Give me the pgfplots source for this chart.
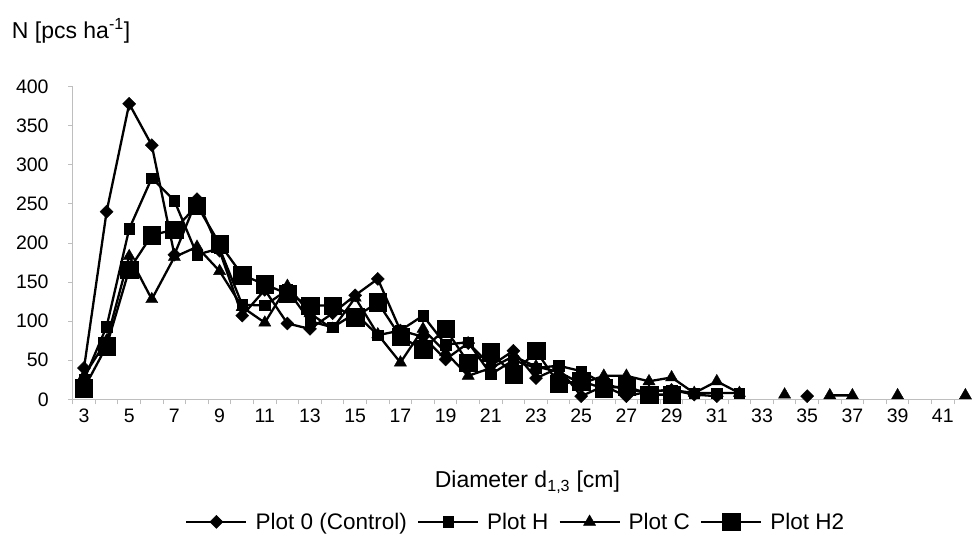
\documentclass[border=0pt]{standalone}
\usepackage{fontspec}
\setmainfont{Liberation Sans}
\usepackage{pgfplots}
\pgfplotsset{compat=1.18}
\definecolor{axgray}{RGB}{190,190,190}
\begin{document}
\begin{tikzpicture}
\path[use as bounding box] (-72.7pt,-143.7pt) rectangle (899.3pt,399.3pt);
\begin{axis}[
  scale only axis, width=904pt, height=312.7pt,
  xmin=2.5, xmax=42.5, ymin=0, ymax=400,
  clip=false,
  axis x line*=bottom, axis y line*=left,
  axis line style={axgray, line width=0.9pt},
  tick align=outside,
  xtick={3,5,...,41},
  minor xtick={2.5,3.5,...,42.5},
  major x tick style={draw=none},
  ytick={0,50,...,400},
  major tick length=4.5pt, minor tick length=5pt,
  tick style={axgray, line width=0.9pt},
  /pgf/number format/assume math mode=true,
  tick label style={font=\fontsize{19.5}{22}\selectfont},
  xticklabel style={anchor=base, inner sep=0pt, yshift=-18.3pt},
  yticklabel style={anchor=east, inner sep=0pt, xshift=-19.4pt},
  xlabel={Diameter d\textsubscript{1,3} [cm]},
  xlabel style={font=\fontsize{23}{26}\selectfont, at={(axis description cs:0.503,0)}, anchor=base, yshift=-88.4pt, inner sep=0pt},
  ylabel={N [pcs ha\textsuperscript{-1}]},
  ylabel style={font=\fontsize{23}{26}\selectfont, rotate=-90, at={(axis description cs:0,1)}, anchor=base west, xshift=-61pt, yshift=47.7pt, inner sep=0pt},
  unbounded coords=jump,
  every axis plot/.append style={black, line width=2.3pt},
  legend style={at={(axis description cs:0.49,-0.392)}, anchor=center, draw=none, fill=none,
    font=\fontsize{22.5}{26}\selectfont,
    /tikz/every odd column/.append style={column sep=6pt},
    /tikz/every even column/.append style={column sep=8pt}},
  legend columns=4,
  legend image code/.code={\draw[#1, mark repeat=2, mark phase=2] plot coordinates {(0pt,0pt) (30pt,0pt) (60pt,0pt)};},
]
\addplot[mark=square*, mark options={solid, rotate=45, mark size=4.6pt, line width=0.4pt, fill=black}] coordinates {
(3,40)(4,240)(5,378)(6,325)(7,185)(8,256)(9,190)(10,107)(11,140)(12,97)(13,90)(14,110)(15,133)(16,154)(17,88)(18,80)(19,51)(20,72)(21,43)(22,62)(23,27)(24,40)(25,4)(26,17)(27,4)(28,10)(29,12)(30,6)(31,4)(32,nan)(33,nan)(34,nan)(35,4)};
\addlegendentry{Plot 0 (Control)}
\addplot[mark=square*, mark options={solid, mark size=5.2pt, line width=0.4pt, fill=black}] coordinates {
(3,25)(4,93)(5,218)(6,283)(7,254)(8,185)(9,193)(10,121)(11,120)(12,140)(13,100)(14,92)(15,110)(16,82)(17,88)(18,107)(19,70)(20,73)(21,32)(22,50)(23,40)(24,43)(25,36)(26,20)(27,12)(28,10)(29,12)(30,8)(31,8)(32,8)};
\addlegendentry{Plot H}
\addplot[mark=triangle*, mark options={solid, mark size=7pt, line width=0.4pt, fill=black}] coordinates {
(3,30)(4,75)(5,183)(6,128)(7,182)(8,195)(9,164)(10,118)(11,98)(12,145)(13,110)(14,90)(15,130)(16,83)(17,47)(18,90)(19,60)(20,30)(21,40)(22,55)(23,42)(24,35)(25,20)(26,30)(27,30)(28,23)(29,28)(30,8)(31,23)(32,8)(33,nan)(34,6)(35,nan)(36,5)(37,5)(38,nan)(39,5)(40,nan)(41,nan)(42,5)};
\addlegendentry{Plot C}
\addplot[mark=square*, mark options={solid, mark size=8.7pt, line width=0.4pt, fill=black}] coordinates {
(3,14)(4,68)(5,166)(6,210)(7,217)(8,248)(9,199)(10,159)(11,147)(12,135)(13,120)(14,120)(15,105)(16,124)(17,80)(18,64)(19,90)(20,47)(21,60)(22,32)(23,62)(24,20)(25,23)(26,14)(27,17)(28,6)(29,6)};
\addlegendentry{Plot H2}
\end{axis}
\end{tikzpicture}
\end{document}
